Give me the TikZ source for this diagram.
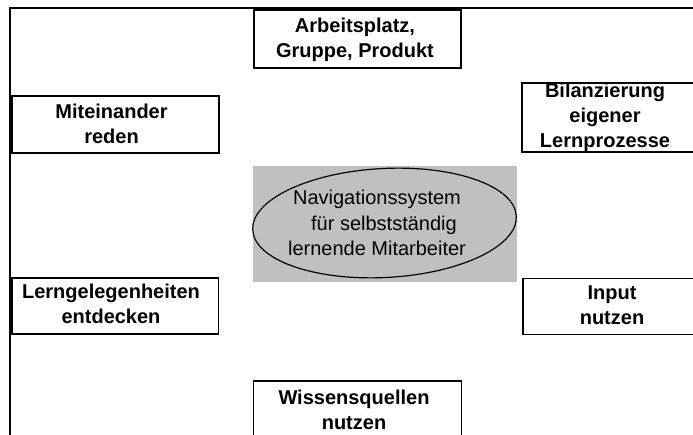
\documentclass[tikz,border=0pt]{standalone}
\usepackage{fontspec}
\setmainfont{Liberation Sans}
\usetikzlibrary{shapes.geometric}
\begin{document}
\begin{tikzpicture}[x=1pt,y=-1pt,
  boxnode/.style={draw=black,line width=1.6pt,rectangle,inner sep=0pt,fill=white},
  boxtext/.style={inner sep=0pt,align=center,font=\fontsize{20}{25}\selectfont\bfseries},
  centertext/.style={inner sep=0pt,align=center,font=\fontsize{20}{25.5}\selectfont},
  frameline/.style={draw=black,line width=2.7pt}]
\clip (0,0) rectangle (693,435);
\useasboundingbox (0,0) rectangle (693,435);
% outer frame (cut at right and bottom)
\coordinate (fTR) at (720,8);
\coordinate (fTL) at (10,8);
\coordinate (fBL) at (10,460);
\draw[frameline] (fTR) -- (fTL) -- (fBL);
% centre
\node[fill={rgb,255:red,192;green,192;blue,192},inner sep=0pt,minimum width=264pt,minimum height=116pt] (grey) at (385,224) {};
\node[draw=black,line width=1.2pt,ellipse,inner sep=0pt,minimum width=264pt,minimum height=109pt,rotate=3] (ell) at (384.5,223) {};
\node[centertext] (tc) at (377,223) {Navigationssystem\\\hspace*{14pt}für selbstständig\\lernende Mitarbeiter};
% boxes
\node[boxnode,minimum width=207pt,minimum height=58pt] (b1) at (357.5,39) {};
\node[boxtext] (t1) at (355,39.5) {Arbeitsplatz,\\Gruppe, Produkt};
\node[boxnode,minimum width=207pt,minimum height=57pt] (b2) at (115.5,124.5) {};
\node[boxtext] (t2) at (111.5,123.5) {Miteinander\\reden};
\node[boxnode,minimum width=218pt,minimum height=69pt] (b3) at (631,117.5) {};
\node[boxtext] (t3) at (605,117.5) {Bilanzierung\\eigener\\Lernprozesse};
\node[boxnode,minimum width=206.5pt,minimum height=56pt] (b4) at (115.25,306) {};
\node[boxtext] (t4) at (111,304) {Lerngelegenheiten\\entdecken};
\node[boxnode,minimum width=217pt,minimum height=56pt] (b5) at (631.5,306.5) {};
\node[boxtext] (t5) at (612,305.5) {Input\\nutzen};
\node[boxnode,minimum width=208pt,minimum height=74pt] (b6) at (357.5,418) {};
\node[boxtext] (t6) at (354,410) {Wissensquellen\\nutzen};
\end{tikzpicture}
\end{document}
